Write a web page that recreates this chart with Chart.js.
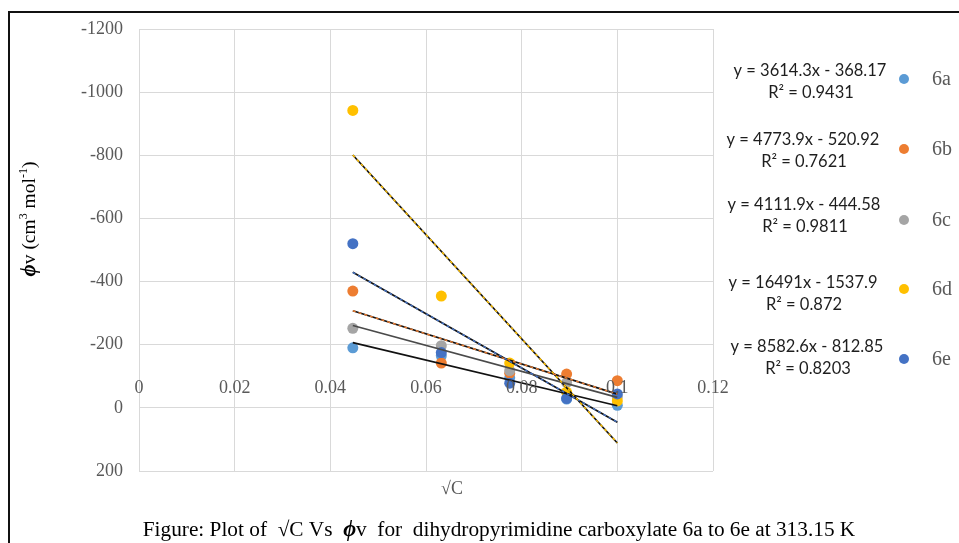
<!DOCTYPE html>
<html>
<head>
<meta charset="utf-8">
<script src="https://cdn.jsdelivr.net/npm/chart.js@4.4.1/dist/chart.umd.min.js"></script>
<style>
  html, body { margin: 0; padding: 0; background: #ffffff; }
  canvas { display: block; }
</style>
</head>
<body>
<canvas id="chart" width="959" height="543"></canvas>
<script>
// Apparent molar volume against square root of concentration
const seriesNames = ['6a', '6b', '6c', '6d', '6e'];
const sqrtC = [0.0447, 0.0632, 0.0775, 0.0894, 0.1];
const phiV6a = [-190, -165, -95, -28, -8];
const phiV6b = [-370, -142, -110, -107, -86];
const phiV6c = [-252, -197, -118, -80, -35];
const phiV6d = [-942, -354, -142, -50, -22];
const phiV6e = [-520, -175, -78, -30, -44];

// Linear fit coefficients (y = slope·x + intercept) and R² of each series
const fitSlopes = [3614.3, 4773.9, 4111.9, 16491, 8582.6];
const fitIntercepts = [-368.17, -520.92, -444.58, -1537.9, -812.85];
const fitR2 = ['0.9431', '0.7621', '0.9811', '0.872', '0.8203'];

// Axis tick labels
const yTickLabels = ['-1200', '-1000', '-800', '-600', '-400', '-200', '0', '200'];
const xTickLabels = ['0', '0.02', '0.04', '0.06', '0.08', '0.1', '0.12'];

const seriesValues = [phiV6a, phiV6b, phiV6c, phiV6d, phiV6e];
const seriesColors = ['#5B9BD5', '#ED7D31', '#A5A5A5', '#FFC000', '#4472C4'];
// base stroke / dash overlay colour of each fit line
const fitBase = ['#111111', '#111111', '#4a4a4a', '#111111', '#111111'];
const fitDash = [null, '#ED7D31', null, '#FFC000', '#4472C4'];

// Side legend layout
const legendRowY = [79, 149, 220, 289, 359];
const eqCenterX = [810, 803, 804, 803, 807];
const eqLineY = [71, 140, 205, 283, 347];

const SERIF = '"Liberation Serif", "Times New Roman", serif';
const SANS = 'Lato, "Open Sans", sans-serif';

const datasets = [];
const xMin = Math.min(...sqrtC), xMax = Math.max(...sqrtC);
seriesNames.forEach((name, i) => {
  const fitLine = [xMin, xMax].map(x => ({ x: x, y: fitSlopes[i] * x + fitIntercepts[i] }));
  datasets.push({
    label: name + ' fit', data: fitLine, showLine: true, pointRadius: 0,
    borderColor: fitBase[i], borderWidth: 1.7, order: 1
  });
  if (fitDash[i]) {
    datasets.push({
      label: name + ' fit dash', data: fitLine, showLine: true, pointRadius: 0,
      borderColor: fitDash[i], borderWidth: 1.4, borderDash: [3, 3], order: 0
    });
  }
  datasets.push({
    label: name,
    data: sqrtC.map((x, k) => ({ x: x, y: seriesValues[i][k] })),
    showLine: false, pointRadius: 5.5, pointHoverRadius: 5.5,
    backgroundColor: seriesColors[i], borderColor: seriesColors[i], borderWidth: 0,
    order: 20 - i
  });
});

function drawRuns(ctx, runs, x, y) {
  let total = 0;
  runs.forEach(r => { ctx.font = r.font; r.w = ctx.measureText(r.text).width; total += r.w; });
  let cx = x - total / 2;
  ctx.textAlign = 'left';
  runs.forEach(r => {
    ctx.font = r.font;
    ctx.fillText(r.text, cx, y + (r.dy || 0));
    cx += r.w;
  });
  return total;
}

const decorations = {
  id: 'decorations',
  beforeDraw(chart) {
    const ctx = chart.ctx;
    ctx.save();
    ctx.fillStyle = '#ffffff';
    ctx.fillRect(0, 0, chart.width, chart.height);
    ctx.strokeStyle = '#111111';
    ctx.lineWidth = 2;
    ctx.beginPath();
    ctx.moveTo(9, chart.height);
    ctx.lineTo(9, 12);
    ctx.lineTo(chart.width, 12);
    ctx.stroke();
    ctx.restore();
  },
  afterDraw(chart) {
    const ctx = chart.ctx;
    const xs = chart.scales.x, ys = chart.scales.y;
    ctx.save();
    ctx.textBaseline = 'middle';

    // x tick labels sit above the zero line (value axis is reversed)
    ctx.fillStyle = '#595959';
    ctx.font = '18px ' + SERIF;
    ctx.textAlign = 'center';
    const zeroY = ys.getPixelForValue(0);
    xTickLabels.forEach(t => {
      ctx.fillText(t, xs.getPixelForValue(parseFloat(t)), zeroY - 20);
    });

    // x axis title
    ctx.fillText('\u221AC', 452, 489);

    // y axis title
    ctx.fillStyle = '#000000';
    ctx.save();
    ctx.translate(30, 219);
    ctx.rotate(-Math.PI / 2);
    drawRuns(ctx, [
      { text: '\u03D5', font: 'italic bold 21px ' + SERIF },
      { text: 'v (cm', font: '19.5px ' + SERIF },
      { text: '3', font: '12px ' + SERIF, dy: -6 },
      { text: ' mol', font: '19.5px ' + SERIF },
      { text: '-1', font: '12px ' + SERIF, dy: -6 },
      { text: ')', font: '19.5px ' + SERIF }
    ], 0, 0);
    ctx.restore();

    // caption
    const captionRuns = size => [
      { text: 'Figure: Plot of  \u221AC Vs  ', font: size + 'px ' + SERIF },
      { text: '\u03D5', font: 'italic bold ' + (size + 1) + 'px ' + SERIF },
      { text: 'v  for  dihydropyrimidine carboxylate 6a to 6e at 313.15 K', font: size + 'px ' + SERIF }
    ];
    let probe = 0;
    captionRuns(18).forEach(r => { ctx.font = r.font; probe += ctx.measureText(r.text).width; });
    const capSize = Math.round(18 * 713 / probe * 10) / 10;
    drawRuns(ctx, captionRuns(capSize), 499, 530);

    // legend with fit equations
    seriesNames.forEach((name, i) => {
      ctx.fillStyle = '#1e1e1e';
      ctx.font = '16.5px ' + SANS;
      ctx.textAlign = 'center';
      const eq = 'y = ' + fitSlopes[i] + 'x - ' + Math.abs(fitIntercepts[i]);
      ctx.fillText(eq, eqCenterX[i], eqLineY[i]);
      ctx.fillText('R\u00B2 = ' + fitR2[i], eqCenterX[i] + 1, eqLineY[i] + 22);

      ctx.fillStyle = seriesColors[i];
      ctx.beginPath();
      ctx.arc(904, legendRowY[i], 5, 0, Math.PI * 2);
      ctx.fill();

      ctx.fillStyle = '#595959';
      ctx.font = '20px ' + SERIF;
      ctx.textAlign = 'left';
      ctx.fillText(name, 932, legendRowY[i] + 1);
    });
    ctx.restore();
  }
};

new Chart(document.getElementById('chart'), {
  type: 'scatter',
  data: { datasets: datasets },
  options: {
    responsive: false,
    animation: false,
    layout: { padding: { left: 0, top: 29, right: 246, bottom: 72 } },
    plugins: { legend: { display: false }, tooltip: { enabled: false } },
    scales: {
      x: {
        type: 'linear', min: 0, max: 0.12,
        afterBuildTicks: s => { s.ticks = xTickLabels.map(t => ({ value: parseFloat(t) })); },
        ticks: { display: false },
        grid: { color: '#d9d9d9', lineWidth: 1, drawTicks: false },
        border: { display: false },
        afterFit: s => { s.height = 0; }
      },
      y: {
        type: 'linear', reverse: true, min: -1200, max: 200,
        afterBuildTicks: s => { s.ticks = yTickLabels.map(t => ({ value: parseFloat(t) })); },
        ticks: {
          color: '#595959', padding: 16,
          font: { family: SERIF, size: 18 },
          callback: v => String(v)
        },
        grid: { color: '#d9d9d9', lineWidth: 1, drawTicks: false },
        border: { display: false },
        afterFit: s => { s.width = 139; }
      }
    }
  },
  plugins: [decorations]
});
</script>
</body>
</html>
